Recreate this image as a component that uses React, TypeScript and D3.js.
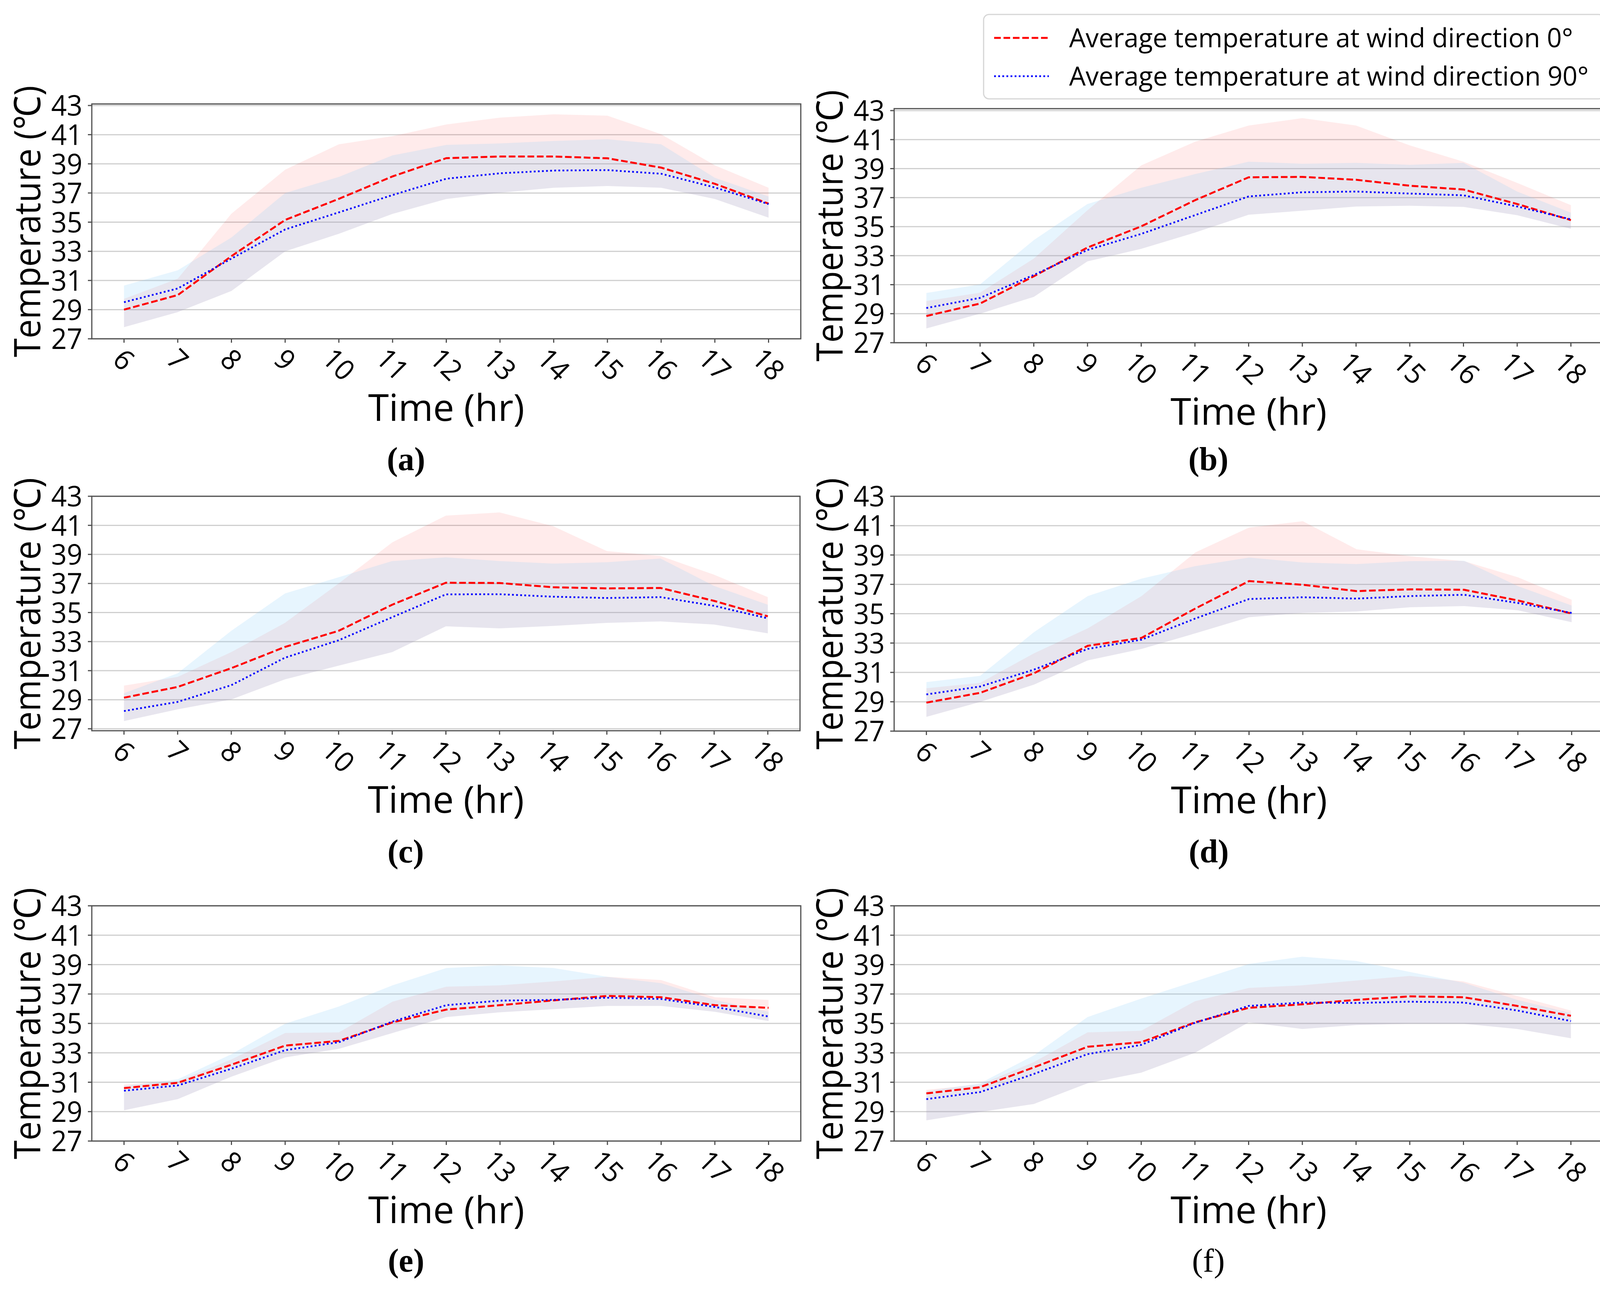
import React from 'react';
import * as d3 from 'd3';

const hours = [6, 7, 8, 9, 10, 11, 12, 13, 14, 15, 16, 17, 18];
const yTicks = [27, 29, 31, 33, 35, 37, 39, 41, 43];
const legendLabels = ['Average temperature at wind direction 0°', 'Average temperature at wind direction 90°'];

// (a)
const a0Mean = [29.0, 30.0, 32.67, 35.15, 36.6, 38.14, 39.39, 39.5, 39.5, 39.38, 38.74, 37.63, 36.27];
const a90Mean = [29.51, 30.45, 32.5, 34.5, 35.67, 36.86, 37.98, 38.35, 38.54, 38.57, 38.32, 37.38, 36.24];
const a0Upper = [29.74, 31.12, 35.58, 38.6, 40.34, 40.9, 41.7, 42.17, 42.4, 42.3, 41.03, 38.9, 37.36];
const a90Upper = [30.65, 31.7, 33.95, 37.0, 38.1, 39.58, 40.3, 40.4, 40.57, 40.69, 40.34, 38.04, 36.76];
const aLower = [27.8, 28.83, 30.28, 33.0, 34.2, 35.57, 36.59, 37.02, 37.36, 37.48, 37.36, 36.59, 35.31];

// (b)
const b0Mean = [28.84, 29.7, 31.58, 33.56, 35.02, 36.82, 38.4, 38.43, 38.23, 37.82, 37.56, 36.56, 35.45];
const b90Mean = [29.39, 30.09, 31.67, 33.39, 34.5, 35.79, 37.08, 37.37, 37.42, 37.28, 37.16, 36.39, 35.5];
const b0Upper = [29.87, 30.45, 32.8, 36.13, 39.22, 40.85, 41.97, 42.48, 41.97, 40.6, 39.48, 38.02, 36.48];
const b90Upper = [30.43, 31.02, 34.07, 36.56, 37.68, 38.62, 39.48, 39.34, 39.4, 39.26, 39.4, 37.42, 35.96];
const bLower = [27.98, 29.0, 30.16, 32.61, 33.47, 34.59, 35.82, 36.1, 36.39, 36.44, 36.36, 35.79, 34.85];

// (c)
const c0Mean = [29.14, 29.88, 31.17, 32.63, 33.74, 35.54, 37.05, 37.03, 36.74, 36.66, 36.69, 35.8, 34.74];
const c90Mean = [28.22, 28.85, 30.0, 31.89, 33.09, 34.68, 36.25, 36.26, 36.09, 36.0, 36.06, 35.46, 34.6];
const c0Upper = [29.97, 30.57, 32.28, 34.29, 37.0, 39.83, 41.67, 41.89, 40.94, 39.23, 38.89, 37.6, 36.06];
const c90Upper = [29.45, 30.82, 33.74, 36.31, 37.43, 38.54, 38.8, 38.54, 38.37, 38.46, 38.72, 36.83, 35.54];
const cLower = [27.53, 28.34, 29.02, 30.4, 31.34, 32.28, 34.05, 33.91, 34.08, 34.29, 34.39, 34.17, 33.57];

// (d)
const d0Mean = [28.94, 29.61, 30.94, 32.81, 33.35, 35.35, 37.22, 36.97, 36.54, 36.66, 36.63, 35.9, 35.01];
const d90Mean = [29.5, 30.04, 31.19, 32.6, 33.23, 34.67, 36.0, 36.12, 36.03, 36.2, 36.29, 35.73, 35.05];
const d0Upper = [29.92, 30.29, 32.3, 34.0, 36.2, 39.17, 40.87, 41.3, 39.39, 38.92, 38.58, 37.48, 35.95];
const d90Upper = [30.34, 30.77, 33.74, 36.2, 37.39, 38.24, 38.83, 38.49, 38.38, 38.58, 38.61, 36.88, 35.56];
const dLower = [27.97, 28.99, 30.17, 31.82, 32.6, 33.66, 34.76, 35.05, 35.15, 35.44, 35.52, 35.23, 34.42];

// (e)
const e0Mean = [30.6, 30.96, 32.19, 33.49, 33.81, 35.07, 35.94, 36.24, 36.57, 36.87, 36.78, 36.24, 36.06];
const e90Mean = [30.42, 30.78, 31.92, 33.18, 33.72, 35.13, 36.24, 36.55, 36.6, 36.75, 36.66, 36.12, 35.47];
const e0Upper = [30.84, 31.07, 32.55, 34.35, 34.39, 36.48, 37.5, 37.59, 37.86, 38.17, 37.95, 36.78, 36.6];
const e90Upper = [30.75, 31.2, 32.91, 34.98, 36.15, 37.59, 38.77, 38.95, 38.77, 38.17, 37.74, 36.6, 35.79];
const eLower = [29.09, 29.85, 31.38, 32.69, 33.27, 34.35, 35.43, 35.76, 35.97, 36.19, 36.19, 35.79, 35.16];

// (f)
const f0Mean = [30.24, 30.66, 32.01, 33.41, 33.72, 35.07, 36.06, 36.3, 36.6, 36.84, 36.78, 36.19, 35.52];
const f90Mean = [29.85, 30.33, 31.56, 32.91, 33.54, 35.04, 36.19, 36.42, 36.39, 36.48, 36.42, 35.88, 35.16];
const f0Upper = [30.48, 30.84, 32.37, 34.39, 34.5, 36.51, 37.41, 37.59, 37.92, 38.23, 37.86, 36.87, 35.88];
const f90Upper = [30.39, 30.93, 32.82, 35.43, 36.69, 37.86, 39.04, 39.54, 39.25, 38.5, 37.77, 36.6, 35.7];
const fLower = [28.41, 28.98, 29.52, 30.93, 31.65, 33.0, 35.07, 34.62, 34.89, 34.98, 34.98, 34.62, 33.99];

const SANS = "'Open Sans', 'Noto Sans', 'DejaVu Sans', sans-serif";
const SERIF = "'Liberation Serif', 'Times New Roman', serif";
const RED = '#ff0000';
const BLUE = '#0000ff';

const panels = [
  { label: '(a)', bold: true, left: 235, right: 2050, top: 266, bottom: 867, y43: 270, y27: 867, capY: 1203,
    m0: a0Mean, m90: a90Mean, u0: a0Upper, u90: a90Upper, lo: aLower },
  { label: '(b)', bold: true, left: 2289, right: 4104, top: 278, bottom: 877, y43: 283, y27: 877, capY: 1203,
    m0: b0Mean, m90: b90Mean, u0: b0Upper, u90: b90Upper, lo: bLower },
  { label: '(c)', bold: true, left: 235, right: 2048, top: 1270, bottom: 1870, y43: 1270, y27: 1865, capY: 2207,
    m0: c0Mean, m90: c90Mean, u0: c0Upper, u90: c90Upper, lo: cLower },
  { label: '(d)', bold: true, left: 2289, right: 4106, top: 1270, bottom: 1871, y43: 1270, y27: 1871, capY: 2207,
    m0: d0Mean, m90: d90Mean, u0: d0Upper, u90: d90Upper, lo: dLower },
  { label: '(e)', bold: true, left: 235, right: 2050, top: 2318, bottom: 2920, y43: 2318, y27: 2920, capY: 3254,
    m0: e0Mean, m90: e90Mean, u0: e0Upper, u90: e90Upper, lo: eLower },
  { label: '(f)', bold: false, left: 2289, right: 4104, top: 2318, bottom: 2920, y43: 2318, y27: 2920, capY: 3254,
    m0: f0Mean, m90: f90Mean, u0: f0Upper, u90: f90Upper, lo: fLower },
];

const Panel = ({ p }) => {
  const x = d3.scaleLinear().domain([5.4, 18.6]).range([p.left, p.right]);
  const y = d3.scaleLinear().domain([27, 43]).range([p.y27, p.y43]);

  const line = d3.line<number>().x((_, i) => x(hours[i])).y(v => y(v));
  const band = (lo: number[]) => d3.area<number>()
    .x((_, i) => x(hours[i]))
    .y0((_, i) => y(lo[i]))
    .y1(v => y(v));

  const cx = (p.left + p.right) / 2;
  const cy = (p.top + p.bottom) / 2;

  return (
    <g>
      {/* grid */}
      {yTicks.map(t => (
        <line key={'g' + t} x1={p.left} x2={p.right} y1={y(t)} y2={y(t)} stroke="#cfcfcf" strokeWidth={3} />
      ))}

      {/* bands: 0° first, 90° on top */}
      <path d={band(p.lo)(p.u0)} fill={RED} fillOpacity={0.08} />
      <path d={band(p.lo)(p.u90)} fill="#87cefa" fillOpacity={0.2} />

      <path d={line(p.m0)} fill="none" stroke={RED} strokeWidth={5} strokeDasharray="17 7" />
      <path d={line(p.m90)} fill="none" stroke={BLUE} strokeWidth={4.5} strokeDasharray="4.5 6" />

      {/* spines */}
      <rect x={p.left} y={p.top} width={p.right - p.left} height={p.bottom - p.top}
        fill="none" stroke="#505050" strokeWidth={3} />

      {/* y ticks */}
      {yTicks.map(t => (
        <g key={'y' + t}>
          <line x1={p.left - 10} x2={p.left} y1={y(t)} y2={y(t)} stroke="#505050" strokeWidth={3} />
          <text x={p.left - 24} y={y(t)} dy="0.36em" textAnchor="end" fontFamily={SANS} fontSize={73}
            textLength={80} lengthAdjust="spacingAndGlyphs">{t}</text>
        </g>
      ))}

      {/* x ticks */}
      {hours.map(h => {
        const n = String(h).length;
        return (
          <g key={'x' + h}>
            <line x1={x(h)} x2={x(h)} y1={p.bottom} y2={p.bottom + 10} stroke="#505050" strokeWidth={3} />
            <g transform={`translate(${x(h)},${p.bottom + 41 + 12 * n}) rotate(45)`}>
              <text textAnchor="middle" dy="0.36em" fontFamily={SANS} fontSize={73}
                textLength={40 * n} lengthAdjust="spacingAndGlyphs">{h}</text>
            </g>
          </g>
        );
      })}

      <text x={cx} y={p.bottom + 210} textAnchor="middle" fontFamily={SANS} fontSize={96}
        textLength={400} lengthAdjust="spacingAndGlyphs">Time (hr)</text>

      <text transform={`translate(${p.left - 132},${cy}) rotate(-90)`} textAnchor="middle"
        fontFamily={SANS} fontSize={94} textLength={695} lengthAdjust="spacingAndGlyphs">Temperature (℃)</text>

      <text x={cx - 103} y={p.capY} textAnchor="middle" fontFamily={SERIF} fontSize={84}
        fontWeight={p.bold ? 'bold' : 'normal'}>{p.label}</text>
    </g>
  );
};

const Legend = () => {
  const rows = [97, 195];
  return (
    <g>
      <rect x={2518} y={37} width={1588} height={216} rx={14} fill="#fff" fillOpacity={0.8}
        stroke="#d6d6d6" strokeWidth={3} />
      <line x1={2545} x2={2685} y1={rows[0]} y2={rows[0]} stroke={RED} strokeWidth={5} strokeDasharray="17 7" />
      <line x1={2545} x2={2685} y1={rows[1]} y2={rows[1]} stroke={BLUE} strokeWidth={4.5} strokeDasharray="4.5 6" />
      {legendLabels.map((t, i) => (
        <text key={t} x={2737} y={rows[i] + 24} fontFamily={SANS} fontSize={68}
          textLength={i === 0 ? 1290 : 1330} lengthAdjust="spacingAndGlyphs">{t}</text>
      ))}
    </g>
  );
};

export default function App() {
  return (
    <svg width={4135} height={3314} style={{ position: 'absolute', left: 0, top: 0, background: '#fff' }}>
      <rect width={4135} height={3314} fill="#fff" />
      {panels.map(p => <Panel key={p.label} p={p} />)}
      <Legend />
    </svg>
  );
}
